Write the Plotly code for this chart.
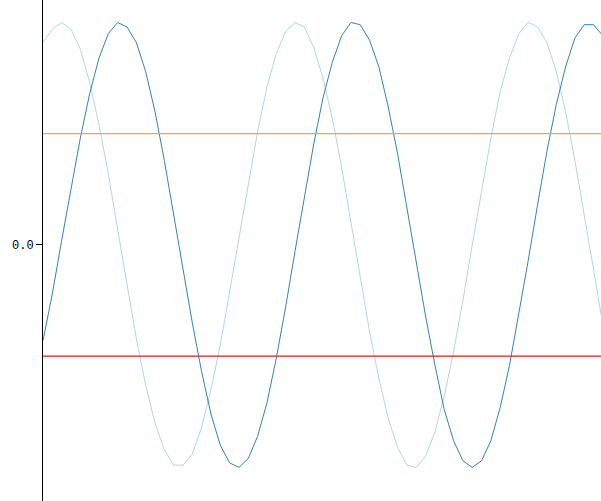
import plotly.graph_objects as go

# sample positions (radians) and the two curves
theta = [-0.5, -0.25, 0.0, 0.25, 0.5, 0.75, 1.0, 1.25, 1.5, 1.75,
         2.0, 2.25, 2.5, 2.75, 3.0, 3.25, 3.5, 3.75, 4.0, 4.25,
         4.5, 4.75, 5.0, 5.25, 5.5, 5.75, 6.0, 6.25, 6.5, 6.75,
         7.0, 7.25, 7.5, 7.75, 8.0, 8.25, 8.5, 8.75, 9.0, 9.25,
         9.5, 9.75, 10.0, 10.25, 10.5, 10.75, 11.0, 11.25, 11.5, 11.75,
         12.0, 12.25, 12.5, 12.75, 13.0, 13.25, 13.5, 13.75, 14.0, 14.25,
         14.5]

dark_series = [-0.43, -0.22, 0.02, 0.25, 0.48, 0.68, 0.84, 0.95, 1.00, 0.98,
               0.91, 0.78, 0.60, 0.38, 0.14, -0.11, -0.35, -0.57, -0.76, -0.90,
               -0.98, -1.00, -0.96, -0.86, -0.71, -0.51, -0.28, -0.03, 0.22, 0.45,
               0.66, 0.82, 0.94, 1.00, 0.99, 0.92, 0.80, 0.62, 0.41, 0.17,
               -0.08, -0.32, -0.54, -0.74, -0.88, -0.97, -1.00, -0.97, -0.88, -0.73,
               -0.54, -0.31, -0.07, 0.18, 0.42, 0.63, 0.80, 0.93, 0.99, 0.99,
               0.94]

light_series = [0.91, 0.97, 1.00, 0.97, 0.88, 0.73, 0.54, 0.32, 0.07, -0.18,
                -0.42, -0.63, -0.80, -0.92, -0.99, -0.99, -0.94, -0.82, -0.65, -0.45,
                -0.21, 0.04, 0.28, 0.51, 0.71, 0.86, 0.96, 1.00, 0.98, 0.89,
                0.75, 0.57, 0.35, 0.10, -0.15, -0.39, -0.60, -0.78, -0.91, -0.99,
                -1.00, -0.95, -0.84, -0.68, -0.48, -0.25, 0.00, 0.25, 0.48, 0.69,
                0.84, 0.95, 1.00, 0.98, 0.91, 0.78, 0.60, 0.38, 0.14, -0.11,
                -0.36]

upper_level = 0.5
lower_level = -0.5

fig = go.Figure()
fig.add_trace(go.Scatter(x=theta, y=light_series, mode='lines',
                         line=dict(color='#add8e6', width=1)))
fig.add_trace(go.Scatter(x=theta, y=dark_series, mode='lines',
                         line=dict(color='#3182bd', width=1)))
fig.add_hline(y=upper_level, line=dict(color='#ff9f30', width=1.2))
fig.add_hline(y=lower_level, line=dict(color='#e8191c', width=1.2))

fig.update_layout(width=601, height=501, showlegend=False,
                  plot_bgcolor='white', paper_bgcolor='white',
                  margin=dict(l=43, r=0, t=0, b=0))
fig.update_xaxes(range=[-0.5, 14.45], visible=False)
fig.update_yaxes(range=[-1.151, 1.101], showgrid=False, zeroline=False,
                 showline=True, linecolor='black', linewidth=1,
                 ticks='outside', ticklen=6, tickcolor='black',
                 tickvals=[0], ticktext=['0.0'],
                 tickfont=dict(family='Liberation Mono', size=12, color='black'))

# page has a default 8px body margin; drop it so the chart fills the window
fig.write_html("out.html", config={'displayModeBar': False},
               post_script="document.body.style.margin='0';document.body.style.overflow='hidden';")
